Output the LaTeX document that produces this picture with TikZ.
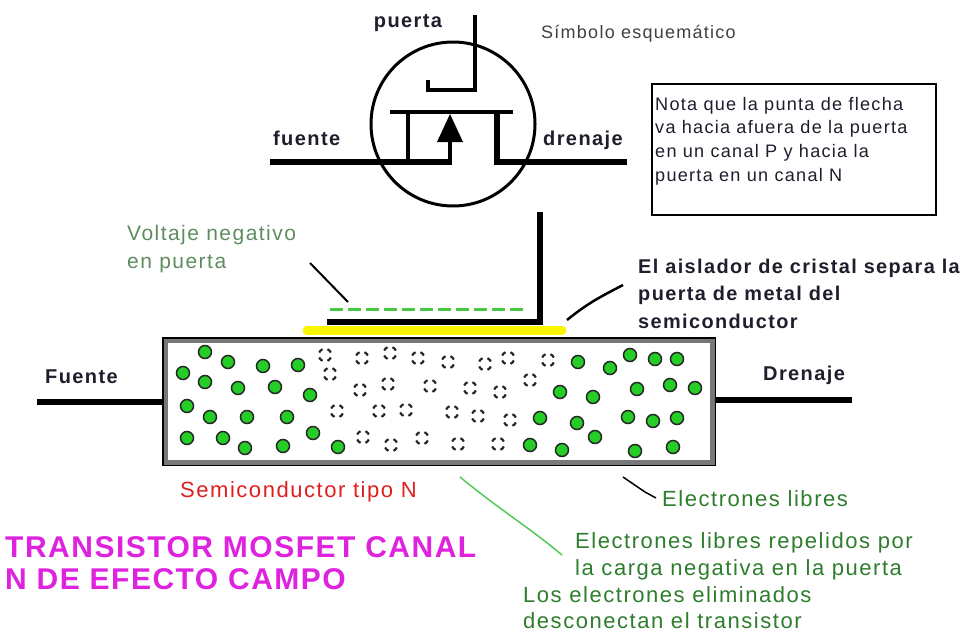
\documentclass[tikz,border=0pt]{standalone}
\usepackage{fontspec}
\setmainfont[LetterSpace=7]{Liberation Sans}
\newfontfamily\titlefont[LetterSpace=5]{Liberation Sans}

\definecolor{dotgreen}{RGB}{38,205,38}
\definecolor{textgreen}{RGB}{45,125,45}
\definecolor{softgreen}{RGB}{95,140,95}
\definecolor{dashgreen}{RGB}{70,200,70}
\definecolor{linegreen}{RGB}{85,200,85}
\definecolor{titlemag}{RGB}{222,34,222}
\definecolor{semired}{RGB}{225,30,30}
\definecolor{glassyellow}{RGB}{250,245,0}
\definecolor{boxgray}{RGB}{120,120,120}
\definecolor{inkdark}{RGB}{30,30,45}

\newcommand\pxfont[2]{\fontsize{#1}{#2}\selectfont}

\tikzset{
  symline/.style={line width=4pt},
  lead/.style={line width=6pt},
  electron/.style={draw=black!85, line width=1.5pt, fill=dotgreen},
  holeline/.style={line width=2.2pt, black!85},
  txt/.style={inner sep=0pt, text=inkdark},
}

\begin{document}
\begin{tikzpicture}[x=1pt,y=-1pt]
  \useasboundingbox (0,0) rectangle (968,640);

  % schematic symbol
  \draw[line width=3pt] (453,124) circle[radius=82pt];
  \draw[symline] (428,80) -- (428,90) -- (475,90) -- (475,15);
  \draw[symline] (390,112) -- (513,112);
  \draw[symline] (408,112) -- (408,162);
  \draw[line width=5.5pt] (270,162) -- (452,162);
  \draw[symline] (450,162) -- (450,138);
  \fill (450,114) -- (463,142) -- (437,142) -- cycle;
  \draw[line width=5.5pt, line join=miter] (497,110) -- (497,162) -- (627,162);

  \node (puerta) [txt, anchor=base, font=\bfseries\pxfont{20}{24}] at (408,27) {puerta};
  \node (fuente) [txt, anchor=base west, font=\bfseries\pxfont{20}{24}] at (273,145) {fuente};
  \node (drenaje) [txt, anchor=base west, font=\bfseries\pxfont{20}{24}] at (543,145) {drenaje};
  \node (simbolo) [txt, anchor=base west, text=black!75, font=\pxfont{18}{22}] at (541,38) {Símbolo esquemático};

  % note box
  \draw[line width=1.5pt] (652,84) rectangle (936,215);
  \node (nota) [txt, anchor=north west, align=left, font=\pxfont{18.1}{23.7}] at (655,96.8)
    {Nota que la punta de flecha\\va hacia afuera de la puerta\\en un canal P y hacia la\\puerta en un canal N};

  % gate, glass insulator and charge
  \draw[glassyellow, line width=9pt, line cap=round] (307,330) -- (562,330);
  \draw[line width=6pt, line join=miter] (327,321.5) -- (540,321.5) -- (540,212);
  \draw[dashgreen, line width=3pt, dash pattern=on 13pt off 5pt] (330,309) -- (527,309);

  \node (voltaje) [txt, anchor=north west, align=left, text=softgreen, font=\pxfont{21}{28}] at (127,224.7)
    {Voltaje negativo\\en puerta};
  \coordinate (voltaje tip) at (348,302);
  \draw[line width=2pt] (310,263) -- (voltaje tip);

  \node (aislador) [txt, anchor=north west, align=left, font=\bfseries\pxfont{19.9}{27.5}] at (638,258.5)
    {El aislador de cristal separa la\\puerta de metal del\\semiconductor};
  \coordinate (aislador tip) at (567,320);
  \draw[line width=2.5pt] (aislador tip) .. controls (588,303) and (600,297) .. (623,285);

  % N-type semiconductor bar
  \draw[lead] (37,402) -- (163,402);
  \draw[lead] (715,400) -- (852,400);
  \draw[line width=5pt, draw=boxgray, fill=white] (165.5,340.5) rectangle (712.5,462.5);
  \draw[line width=1.5pt] (162.75,337.75) rectangle (715.25,465.25);

  \node (fuente bar) [txt, anchor=base west, font=\bfseries\pxfont{20}{24}] at (45,383) {Fuente};
  \node (drenaje bar) [txt, anchor=base west, font=\bfseries\pxfont{20}{24}] at (763,380) {Drenaje};

  % free electrons
  \foreach \x/\y in {205/352,228/362,183/373,205/382,263/366,298/365,238/388,275/387,310/395,
      187/406,210/417,247/417,287/417,187/438,223/438,245/448,283/446,313/433,338/447,
      578/362,610/368,630/355,655/359,677/359,560/392,593/397,637/389,670/385,695/388,
      540/418,577/423,628/417,653/421,677/418,595/437,530/445,562/450,635/451,673/447}
    \draw[electron] (\x,\y) circle[radius=6.5pt];

  % empty places left by the repelled electrons
  \foreach \x/\y in {325/355,362/358,390/353,418/358,448/362,485/364,508/358,548/360,
      330/374,360/390,388/384,430/386,470/388,500/392,530/380,
      337/411,379/411,406/410,452/412,478/416,510/420,
      363/437,391/445,422/438,458/444,498/444}
    \foreach \a in {45,135,225,315}
      \draw[holeline] (\x,\y) ++(\a-22:6.3pt) arc[start angle=\a-22, end angle=\a+22, radius=6.3pt];

  % labels under the bar
  \node (tipo n) [txt, anchor=base west, text=semired, font=\pxfont{22}{26}] at (180,497) {Semiconductor tipo N};

  \node (libres) [txt, anchor=base west, text=textgreen, font=\pxfont{22}{26}] at (662,506) {Electrones libres};
  \coordinate (libres tip) at (623,477);
  \draw[line width=1.5pt] (libres tip) -- (645,492) -- (656,498);

  \node (repelidos) [txt, anchor=north west, align=left, text=textgreen, font=\pxfont{22}{27}] at (575,532)
    {Electrones libres repelidos por\\la carga negativa en la puerta};
  \node (eliminados) [txt, anchor=north west, align=left, text=textgreen, font=\pxfont{22}{26}] at (523,586)
    {Los electrones eliminados\\desconectan el transistor};
  \coordinate (repelidos tip) at (460,477);
  \draw[linegreen, line width=1.5pt] (repelidos tip) .. controls (500,510) and (530,528) .. (562,555);

  \node (titulo) [inner sep=0pt, anchor=north west, align=left, text=titlemag,
    font=\titlefont\bfseries\pxfont{30}{32}] at (5,536.5)
    {TRANSISTOR MOSFET CANAL\\N DE EFECTO CAMPO};
\end{tikzpicture}
\end{document}
